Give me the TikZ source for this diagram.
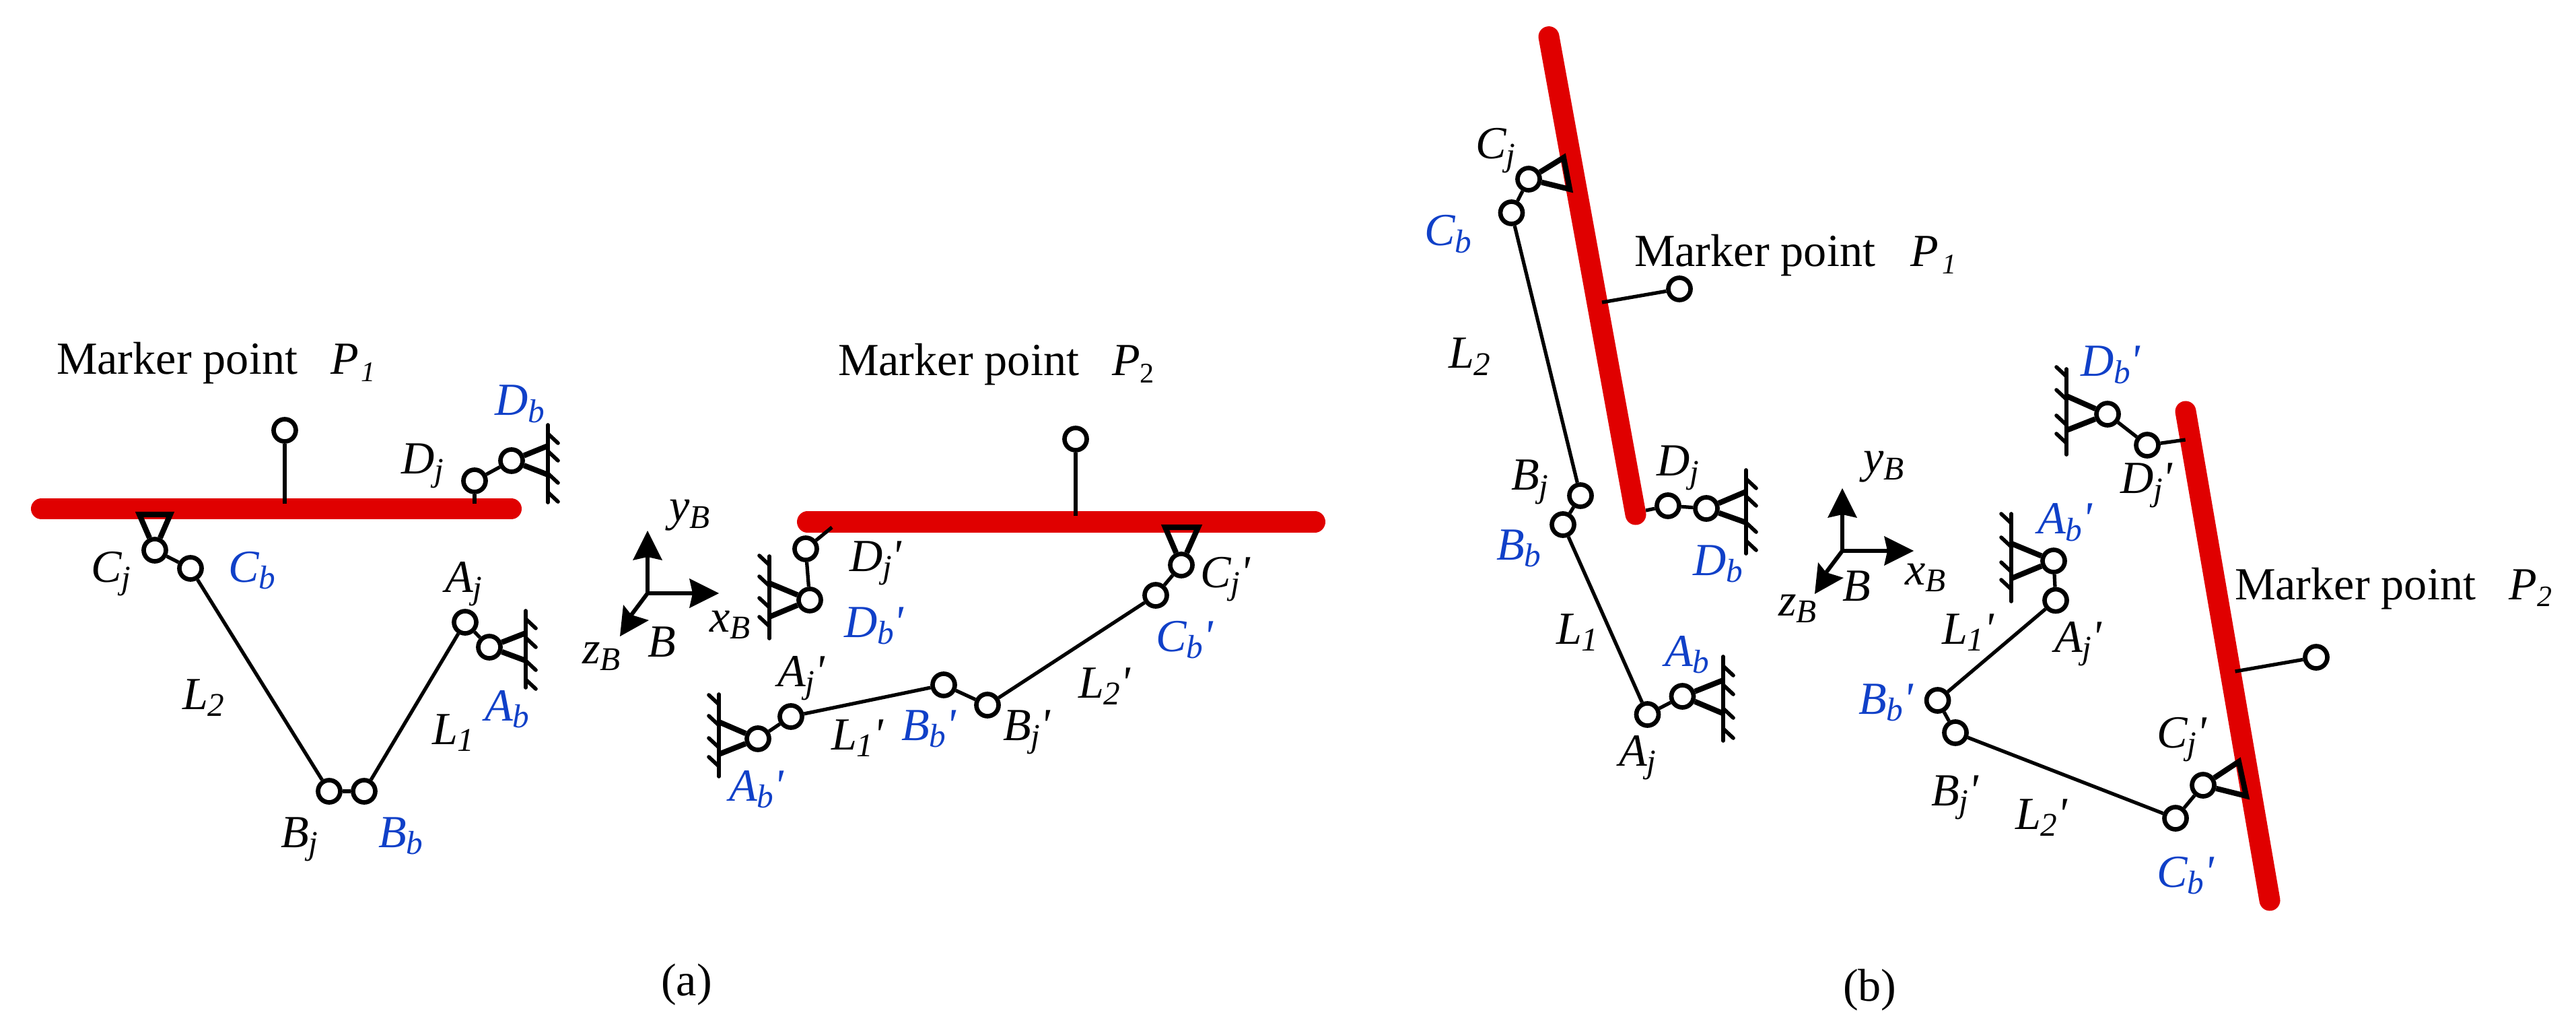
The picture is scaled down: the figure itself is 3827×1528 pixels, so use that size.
\documentclass[tikz,border=0pt]{standalone}
\usepackage{fontspec}
\setmainfont{Liberation Serif}
\definecolor{barred}{HTML}{E00000}
\definecolor{lblblue}{HTML}{1040C8}
\newcommand{\mainsize}{\fontsize{19.4pt}{22pt}\selectfont}
\newcommand{\subtxt}[1]{\raisebox{-2.9pt}{\fontsize{14pt}{15pt}\selectfont\itshape #1}}
\newcommand{\marksub}[2]{\raisebox{-2.9pt}{\fontsize{#1}{15pt}\selectfont #2}}
\newcommand{\primemark}{\textit{\textquotesingle}}
% \lab{name}{x}{y}{colour}{base}{sub}{prime}
\newcommand{\lab}[7]{\node[lbl,text=#4] (#1) at (#2,#3) {\itshape #5\subtxt{#6}#7};}
% \groundright{x}{ytop}{ybottom}{tick ys}  \groundleft same
\newcommand{\groundright}[4]{\draw[groundline] (#1,#2) -- (#1,#3);
  \foreach \ty in {#4} {\draw[groundline] (#1,\ty) -- ++(15,14);}}
\newcommand{\groundleft}[4]{\draw[groundline] (#1,#2) -- (#1,#3);
  \foreach \ty in {#4} {\draw[groundline] (#1,\ty) -- ++(-15,-14);}}
\tikzset{
  lbl/.style={anchor=base west,inner sep=0pt,outer sep=0pt,font=\mainsize},
  joint/.style={circle,draw=black,fill=white,line width=1.9pt,inner sep=0pt,minimum size=0.33cm},
  link/.style={line width=1.5pt,draw=black},
  redbar/.style={line width=0.31cm,draw=barred,line cap=round},
  tribase/.style={line width=2.3pt,draw=black,line join=miter},
  groundline/.style={line width=1.6pt,draw=black,line cap=round},
  axisline/.style={line width=1.7pt,draw=black},
  axishead/.style={fill=black,draw=none},
}
\newcommand{\axes}[3]{%
  \begin{scope}[shift={(#1,#2)}]
    \coordinate (#3o) at (0,0);
    \coordinate (#3x) at (70,0);
    \coordinate (#3y) at (0,-55);
    \coordinate (#3z) at (-24,32);
    \draw[axisline] (#3o) -- (#3x);
    \draw[axisline] (#3o) -- (#3y);
    \draw[axisline] (#3o) -- (#3z);
    \fill[axishead] (0,-93) -- (-22,-49) -- (0,-54) -- (22,-49) -- cycle;
    \fill[axishead] (106,0) -- (62,-22) -- (67,0) -- (62,22) -- cycle;
    \fill[axishead] (-41,64) -- (-36,17) -- (-24,32) -- (2,40) -- cycle;
  \end{scope}}
\begin{document}
\begin{tikzpicture}[x=0.01cm,y=-0.01cm]
\useasboundingbox (0,0) rectangle (3827,1528);

%% ---------- panel (a), P1 ----------
\coordinate (ra1) at (61.5,755.5);
\coordinate (ra2) at (759.5,755.5);
\draw[redbar] (ra1) -- (ra2);
\node[joint] (aP) at (423,639) {};
\node[joint] (aDj) at (705,714) {};
\node[joint] (aDb) at (760,684) {};
\node[joint] (aCj) at (230,817) {};
\node[joint] (aCb) at (283,844) {};
\node[joint] (aBj) at (489,1175) {};
\node[joint] (aBb) at (541,1175) {};
\node[joint] (aAj) at (691,924) {};
\node[joint] (aAb) at (727,961) {};
\coordinate (aPs) at (423,748);
\coordinate (aDs) at (705,748);
\draw[link] (aP) -- (aPs);
\draw[link] (aDj) -- (aDs);
\draw[link] (aDj) -- (aDb);
\draw[link] (aCj) -- (aCb);
\draw[link] (aCb) -- (aBj);
\draw[link] (aBj) -- (aBb);
\draw[link] (aBb) -- (aAj);
\draw[link] (aAj) -- (aAb);
\groundright{814}{631}{746}{644,670,703,731}
\coordinate (aD1) at (814,662); \coordinate (aD2) at (814,705);
\draw[tribase] (aDb) -- (aD1); \draw[tribase] (aDb) -- (aD2);
\groundright{781}{907}{1021}{919,947,981,1009}
\coordinate (aA1) at (781,940); \coordinate (aA2) at (781,981);
\draw[tribase] (aAb) -- (aA1); \draw[tribase] (aAb) -- (aA2);
\coordinate (aC1) at (207,764); \coordinate (aC2) at (253,764);
\draw[tribase] (aCj) -- (aC1) -- (aC2) -- (aCj);

\node[lbl] (amark) at (84,556) {Marker point\hspace*{14pt}\textit{P}\hspace{1pt}\marksub{12pt}{\itshape 1}};
\lab{lCj}{135}{864}{black}{C}{j}{}
\lab{lCb}{339}{864}{lblblue}{C}{b}{}
\lab{lDb}{735}{617}{lblblue}{D}{b}{}
\lab{lDj}{596}{704}{black}{D}{j}{}
\lab{lAj}{661}{879}{black}{A}{j}{}
\lab{lAb}{720}{1070}{lblblue}{A}{b}{}
\lab{lLa}{642}{1105}{black}{L}{1}{}
\lab{lLb}{271}{1053}{black}{L}{2}{}
\lab{lBj}{417}{1258}{black}{B}{j}{}
\lab{lBb}{562}{1258}{lblblue}{B}{b}{}

%% ---------- axes (a) ----------
\axes{962}{881}{ax}
\lab{ayB}{994}{774}{black}{y}{B}{}
\lab{axB}{1054}{938}{black}{x}{B}{}
\lab{azB}{865}{985}{black}{z}{B}{}
\lab{aB}{962}{975}{black}{B}{}{}

%% ---------- panel (a), P2 ----------
\coordinate (rb1) at (1199.5,775);
\coordinate (rb2) at (1953.5,775);
\draw[redbar] (rb1) -- (rb2);
\node[joint] (bP) at (1598,652) {};
\node[joint] (bDj) at (1197,815) {};
\node[joint] (bDb) at (1203,891) {};
\node[joint] (bCj) at (1755,839) {};
\node[joint] (bCb) at (1717,884) {};
\node[joint] (bBj) at (1467,1047) {};
\node[joint] (bBb) at (1402,1017) {};
\node[joint] (bAj) at (1175,1064) {};
\node[joint] (bAb) at (1126,1097) {};
\coordinate (bPs) at (1598,766);
\coordinate (bDs) at (1236,783);
\draw[link] (bP) -- (bPs);
\draw[link] (bDj) -- (bDs);
\draw[link] (bDj) -- (bDb);
\draw[link] (bCj) -- (bCb);
\draw[link] (bCb) -- (bBj);
\draw[link] (bBj) -- (bBb);
\draw[link] (bBb) -- (bAj);
\draw[link] (bAj) -- (bAb);
\groundleft{1143}{826}{948}{839,870,902,930}
\coordinate (bD1) at (1143,866); \coordinate (bD2) at (1143,916);
\draw[tribase] (bDb) -- (bD1); \draw[tribase] (bDb) -- (bD2);
\groundleft{1068}{1031}{1153}{1046,1077,1110,1138}
\coordinate (bA1) at (1068,1072); \coordinate (bA2) at (1068,1120);
\draw[tribase] (bAb) -- (bA1); \draw[tribase] (bAb) -- (bA2);
\coordinate (bC1) at (1731,783); \coordinate (bC2) at (1780,783);
\draw[tribase] (bCj) -- (bC1) -- (bC2) -- (bCj);

\node[lbl] (bmark) at (1245,558) {Marker point\hspace*{14pt}\textit{P}\marksub{12pt}{2}};
\lab{lDjp}{1262}{848}{black}{D}{j}{\primemark}
\lab{lDbp}{1254}{946}{lblblue}{D}{b}{\primemark}
\lab{lCjp}{1783}{872}{black}{C}{j}{\primemark}
\lab{lCbp}{1717}{967}{lblblue}{C}{b}{\primemark}
\lab{lLbp}{1602}{1036}{black}{L}{2}{\primemark}
\lab{lBjp}{1490}{1099}{black}{B}{j}{\primemark}
\lab{lBbp}{1339}{1099}{lblblue}{B}{b}{\primemark}
\lab{lLap}{1235}{1113}{black}{L}{1}{\primemark}
\lab{lAjp}{1155}{1019}{black}{A}{j}{\primemark}
\lab{lAbp}{1083}{1189}{lblblue}{A}{b}{\primemark}

\node[lbl] (capa) at (982,1478) {(a)};

%% ---------- panel (b), P1 ----------
\coordinate (rc1) at (2301,54.6);
\coordinate (rc2) at (2430,764);
\draw[redbar] (rc1) -- (rc2);
\node[joint] (cP) at (2495,429) {};
\node[joint] (cCj) at (2271,266) {};
\node[joint] (cCb) at (2245.5,316) {};
\node[joint] (cBj) at (2348,736) {};
\node[joint] (cBb) at (2322,779) {};
\node[joint] (cDj) at (2478,751) {};
\node[joint] (cDb) at (2535,755) {};
\node[joint] (cAj) at (2447.5,1061) {};
\node[joint] (cAb) at (2499.5,1034) {};
\coordinate (cPs) at (2380,449);
\coordinate (cDs) at (2445,758);
\draw[link] (cP) -- (cPs);
\draw[link] (cDj) -- (cDs);
\draw[link] (cDj) -- (cDb);
\draw[link] (cCj) -- (cCb);
\draw[link] (cCb) -- (cBj);
\draw[link] (cBj) -- (cBb);
\draw[link] (cBb) -- (cAj);
\draw[link] (cAj) -- (cAb);
\groundright{2594}{698}{822}{711,737,776,803}
\coordinate (cD1) at (2594,730); \coordinate (cD2) at (2594,776);
\draw[tribase] (cDb) -- (cD1); \draw[tribase] (cDb) -- (cD2);
\groundright{2560}{975}{1100}{989,1017,1052,1082}
\coordinate (cA1) at (2560,1010); \coordinate (cA2) at (2560,1059.5);
\draw[tribase] (cAb) -- (cA1); \draw[tribase] (cAb) -- (cA2);
\coordinate (cC1) at (2323,234); \coordinate (cC2) at (2332,281);
\draw[tribase] (cCj) -- (cC1) -- (cC2) -- (cCj);

\node[lbl] (cmark) at (2428,396) {Marker point\hspace*{15pt}\textit{P}\hspace{1.5pt}\marksub{12pt}{\itshape 1}};
\lab{mCj}{2192}{236}{black}{C}{j}{}
\lab{mCb}{2116}{365}{lblblue}{C}{b}{}
\lab{mLb}{2152}{547}{black}{L}{2}{}
\lab{mBj}{2245}{728}{black}{B}{j}{}
\lab{mBb}{2223}{831}{lblblue}{B}{b}{}
\lab{mDj}{2461}{707}{black}{D}{j}{}
\lab{mDb}{2515}{854}{lblblue}{D}{b}{}
\lab{mLa}{2312}{956}{black}{L}{1}{}
\lab{mAb}{2473}{989}{lblblue}{A}{b}{}
\lab{mAj}{2405}{1137}{black}{A}{j}{}

%% ---------- axes (b) ----------
\axes{2737}{818}{bx}
\lab{byB}{2768}{702}{black}{y}{B}{}
\lab{bxB}{2830}{868}{black}{x}{B}{}
\lab{bzB}{2642}{914}{black}{z}{B}{}
\lab{bB}{2737}{892}{black}{B}{}{}

%% ---------- panel (b), P2 ----------
\coordinate (rd1) at (3247,611);
\coordinate (rd2) at (3372,1337);
\draw[redbar] (rd1) -- (rd2);
\node[joint] (dP) at (3441,976) {};
\node[joint] (dDb) at (3131,615) {};
\node[joint] (dDj) at (3190,661) {};
\node[joint] (dAb) at (3051,833) {};
\node[joint] (dAj) at (3054,891.5) {};
\node[joint] (dBb) at (2878.6,1040) {};
\node[joint] (dBj) at (2905,1088) {};
\node[joint] (dCb) at (3232,1215) {};
\node[joint] (dCj) at (3273,1166) {};
\coordinate (dPs) at (3320.6,997);
\coordinate (dDs) at (3246.6,653);
\draw[link] (dP) -- (dPs);
\draw[link] (dDj) -- (dDs);
\draw[link] (dDj) -- (dDb);
\draw[link] (dAb) -- (dAj);
\draw[link] (dAj) -- (dBb);
\draw[link] (dBb) -- (dBj);
\draw[link] (dBj) -- (dCb);
\draw[link] (dCb) -- (dCj);
\groundleft{3070}{548}{675}{559,593,631,658}
\coordinate (dD1) at (3070,588); \coordinate (dD2) at (3070,639);
\draw[tribase] (dDb) -- (dD1); \draw[tribase] (dDb) -- (dD2);
\groundleft{2988}{763}{893}{777,812,849,875}
\coordinate (dA1) at (2988,807); \coordinate (dA2) at (2988,859);
\draw[tribase] (dAb) -- (dA1); \draw[tribase] (dAb) -- (dA2);
\coordinate (dC1) at (3326,1131); \coordinate (dC2) at (3337,1182);
\draw[tribase] (dCj) -- (dC1) -- (dC2) -- (dCj);

\node[lbl] (dmark) at (3320,890) {Marker point\hspace*{14pt}\textit{P}\marksub{12.5pt}{\itshape 2}};
\lab{mDbp}{3091}{559}{lblblue}{D}{b}{\primemark}
\lab{mDjp}{3150}{733}{black}{D}{j}{\primemark}
\lab{mAbp}{3027}{793}{lblblue}{A}{b}{\primemark}
\lab{mAjp}{3052}{968}{black}{A}{j}{\primemark}
\lab{mLap}{2885}{956}{black}{L}{1}{\primemark}
\lab{mBbp}{2761}{1060}{lblblue}{B}{b}{\primemark}
\lab{mBjp}{2869}{1196}{black}{B}{j}{\primemark}
\lab{mLbp}{2994}{1231}{black}{L}{2}{\primemark}
\lab{mCjp}{3204}{1110}{black}{C}{j}{\primemark}
\lab{mCbp}{3204}{1317}{lblblue}{C}{b}{\primemark}

\node[lbl] (capb) at (2738,1486) {(b)};
\end{tikzpicture}
\end{document}
